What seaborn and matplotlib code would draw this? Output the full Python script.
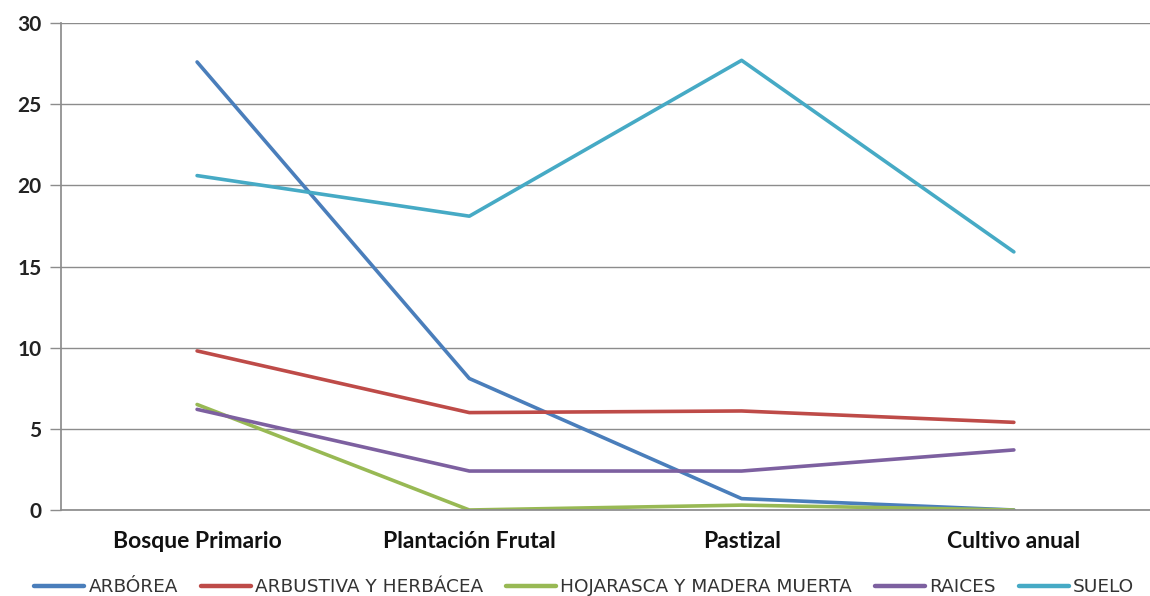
import matplotlib
matplotlib.use("Agg")
import matplotlib.pyplot as plt
import seaborn as sns
import pandas as pd

categories = ["Bosque Primario", "Plantación Frutal", "Pastizal", "Cultivo anual"]
series_names = ["ARBÓREA", "ARBUSTIVA Y HERBÁCEA", "HOJARASCA Y MADERA MUERTA", "RAICES", "SUELO"]
arborea = [27.6, 8.1, 0.7, 0.0]
arbustiva = [9.8, 6.0, 6.1, 5.4]
hojarasca = [6.5, 0.0, 0.3, 0.0]
raices = [6.2, 2.4, 2.4, 3.7]
suelo = [20.6, 18.1, 27.7, 15.9]
y_ticks = [0, 5, 10, 15, 20, 25, 30]

colors = ["#4A7EBB", "#BE4B48", "#98B954", "#7D60A0", "#46AAC5"]

rows = []
for name, vals in zip(series_names, [arborea, arbustiva, hojarasca, raices, suelo]):
    for i, (cat, v) in enumerate(zip(categories, vals)):
        rows.append({"pos": i, "categoria": cat, "serie": name, "valor": v})
df = pd.DataFrame(rows)

sns.set_theme(style="white")
plt.rcParams["font.family"] = ["DejaVu Sans"]

fig = plt.figure(figsize=(11.5, 5.96), dpi=100)
ax = fig.add_axes([0.053, 0.1443, 0.947, 0.8171])

sns.lineplot(data=df, x="pos", y="valor", hue="serie", hue_order=series_names,
             palette=colors, linewidth=2.6, sort=False, ax=ax, legend=True)

ax.set_xlim(-0.5, 3.5)
ax.set_ylim(0, 30)
ax.set_yticks(y_ticks)
ax.set_yticklabels([str(t) for t in y_ticks], fontsize=15, fontweight="bold",
                   family="Lato", color="#222222")
ax.yaxis.grid(True, color="#8c8c8c", linewidth=1.0)
ax.set_axisbelow(True)

# category labels centered, tick marks on boundaries
ax.set_xticks(range(len(categories)))
ax.set_xticklabels(categories, fontsize=16.5, fontweight="bold", family="Lato",
                   color="#111111")
ax.tick_params(axis="x", length=0, pad=15)
ax.set_xticks([0.5, 1.5, 2.5], minor=True)
ax.tick_params(axis="x", which="minor", length=6, color="#8c8c8c", width=1, direction="out")
ax.tick_params(axis="y", length=8, color="#8c8c8c", width=1, direction="out", pad=6, left=True)

for side in ["top", "right"]:
    ax.spines[side].set_visible(False)
ax.spines["left"].set_color("#8c8c8c")
ax.spines["bottom"].set_color("#8c8c8c")
ax.set_xlabel("")
ax.set_ylabel("")

handles, labels = ax.get_legend_handles_labels()
ax.get_legend().remove()
leg = fig.legend(handles, labels, loc="center", bbox_to_anchor=(0.508, 1 - 587 / 596),
                 ncol=5, frameon=False, fontsize=13.3, handlelength=2.7, columnspacing=1.25,
                 handletextpad=0.23, borderaxespad=0)
for t in leg.get_texts():
    t.set_color("#333333")
for h in leg.get_lines():
    h.set_linewidth(3.2)

fig.savefig("out.png", dpi=100)
